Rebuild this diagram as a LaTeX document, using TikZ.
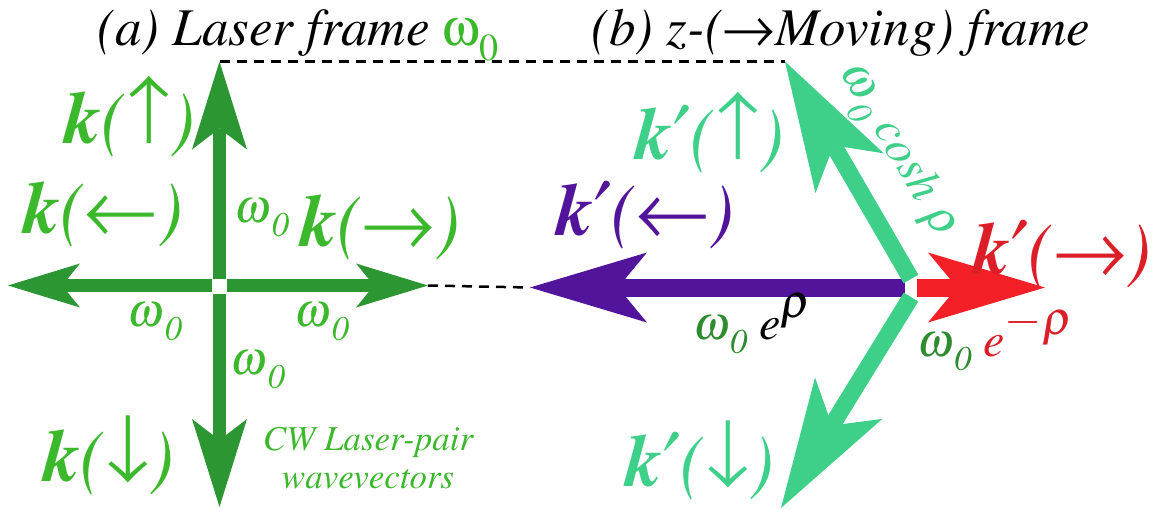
\documentclass[tikz,border=0pt]{standalone}
\usepackage[T1]{fontenc}
\usepackage{mathptmx}
\usepackage{graphicx}
\usetikzlibrary{arrows.meta}
\definecolor{lasergreen}{HTML}{2C9632}
\definecolor{labelgreen}{HTML}{3CB82C}
\definecolor{omegagreen}{HTML}{2E8B2E}
\definecolor{mint}{HTML}{3ECF89}
\definecolor{violetk}{HTML}{52149A}
\definecolor{redarrow}{HTML}{F42027}
\definecolor{redk}{HTML}{DC1E28}
% Symbol font glyphs: arrows, prime, upright omega
\newcommand\sym[1]{{\usefont{U}{psy}{m}{n}\char#1}}
\newcommand\arrL{\sym{"AC}}
\newcommand\arrU{\sym{"AD}}
\newcommand\arrR{\sym{"AE}}
\newcommand\arrD{\sym{"AF}}
\newcommand\kpr{\textbf{k}\sym{"A2}}
\newcommand\omz{$\omega$\raisebox{-0.3em}{\scalebox{0.72}{0}}}
\newcommand\upomz{\sym{"77}\raisebox{-0.3em}{\scalebox{0.72}{\upshape 0}}}
\tikzset{
  klab/.style={font=\fontsize{74}{74}\selectfont\itshape, inner sep=0pt},
  omlab/.style={font=\fontsize{48}{48}\selectfont\itshape, inner sep=0pt, text=labelgreen},
  frametitle/.style={font=\fontsize{53}{53}\selectfont\itshape, inner sep=0pt, anchor=base},
  guide/.style={draw=black, line width=2.5pt, dash pattern=on 10pt off 7pt},
  crossarrow/.style={draw=lasergreen, line width=13pt, -{Stealth[length=72pt, width=44pt, inset=18pt, line width=0pt]}},
  vertarrow/.style={draw=lasergreen, line width=13pt, -{Stealth[length=88pt, width=55pt, inset=21pt, line width=0pt]}},
  boostarrow/.style={line width=18pt, -{Stealth[length=117pt, width=70pt, inset=29pt, line width=0pt]}},
  tiltarrow/.style={draw=mint, line width=17pt, -{Stealth[length=129pt, width=79pt, inset=32pt, line width=0pt]}}
}
\begin{document}
\begin{tikzpicture}[x=1pt, y=-1pt]
\useasboundingbox (0,0) rectangle (1155,509);
% (a) laser frame
\coordinate (Lup0) at (219.5,279);
\coordinate (Lup) at (219.5,61.5);
\coordinate (Ldn0) at (219.5,294);
\coordinate (Ldn) at (219.5,507);
\coordinate (Llt0) at (212,285.5);
\coordinate (Llt) at (8,285.5);
\coordinate (Lrt0) at (227,285.5);
\coordinate (Lrt) at (428,285.5);
% (b) moving frame
\coordinate (Mlt0) at (905,287.5);
\coordinate (Mlt) at (530,287.5);
\coordinate (Mrt0) at (917,287.5);
\coordinate (Mrt) at (1045,287.5);
\coordinate (Mup0) at (911,279);
\coordinate (Mup) at (785,61.5);
\coordinate (Mdn0) at (911,297);
\coordinate (Mdn) at (781,508);

\draw[guide] (Lup) -- (Mup);
\draw[guide] (Lrt) -- (Mlt);

\draw[vertarrow] (Lup0) -- (Lup);
\draw[vertarrow] (Ldn0) -- (Ldn);
\draw[crossarrow] (Llt0) -- (Llt);
\draw[crossarrow] (Lrt0) -- (Lrt);

\draw[boostarrow, draw=violetk] (Mlt0) -- (Mlt);
\draw[boostarrow, draw=redarrow] (Mrt0) -- (Mrt);
\draw[tiltarrow] (Mup0) -- (Mup);
\draw[tiltarrow] (Mdn0) -- (Mdn);

% titles
\node[frametitle] (ta) at (298,45) {(a) Laser frame {\color{labelgreen}\upomz}};
\node[frametitle] (tb) at (841,45) {(b) z-(\arrR Moving) frame};

% laser frame labels
\node[klab, text=labelgreen] (kup) at (130,117) {\textbf{k}(\arrU)};
\node[klab, text=labelgreen] (klt) at (103,215) {\textbf{k}(\arrL)};
\node[klab, text=labelgreen] (krt) at (380,228) {\textbf{k}(\arrR)};
\node[klab, text=labelgreen] (kdn) at (109,455) {\textbf{k}(\arrD)};
\node[omlab] (wup) at (262,218) {\omz};
\node[omlab] (wlt) at (155,322) {\omz};
\node[omlab] (wrt) at (322,322) {\omz};
\node[omlab] (wdn) at (258,370) {\omz};
\node[font=\fontsize{35}{38}\selectfont\itshape, text=labelgreen, align=center, inner sep=0pt] (cw) at (368,458) {CW Laser-pair\\wavevectors};

% moving frame labels
\node[klab, text=mint] (kpup) at (710,133) {\kpr(\arrU)};
\node[klab, text=violetk] (kplt) at (645,215) {\kpr(\arrL)};
\node[klab, text=redk] (kprt) at (1062,254) {\kpr(\arrR)};
\node[klab, text=mint] (kpdn) at (700,460) {\kpr(\arrD)};
\node[omlab, text=mint, rotate=-59.4] (wcosh) at (897,152) {\omz{} cosh $\rho$};
\node[omlab] (wexp) at (752,324) {{\color{omegagreen}\omz} {\color{black}e\raisebox{0.45em}{$\rho$}}};
\node[omlab] (wexm) at (995,339) {{\color{omegagreen}\omz} {\color{redk}e\raisebox{0.45em}{$-\rho$}}};
\end{tikzpicture}
\end{document}
